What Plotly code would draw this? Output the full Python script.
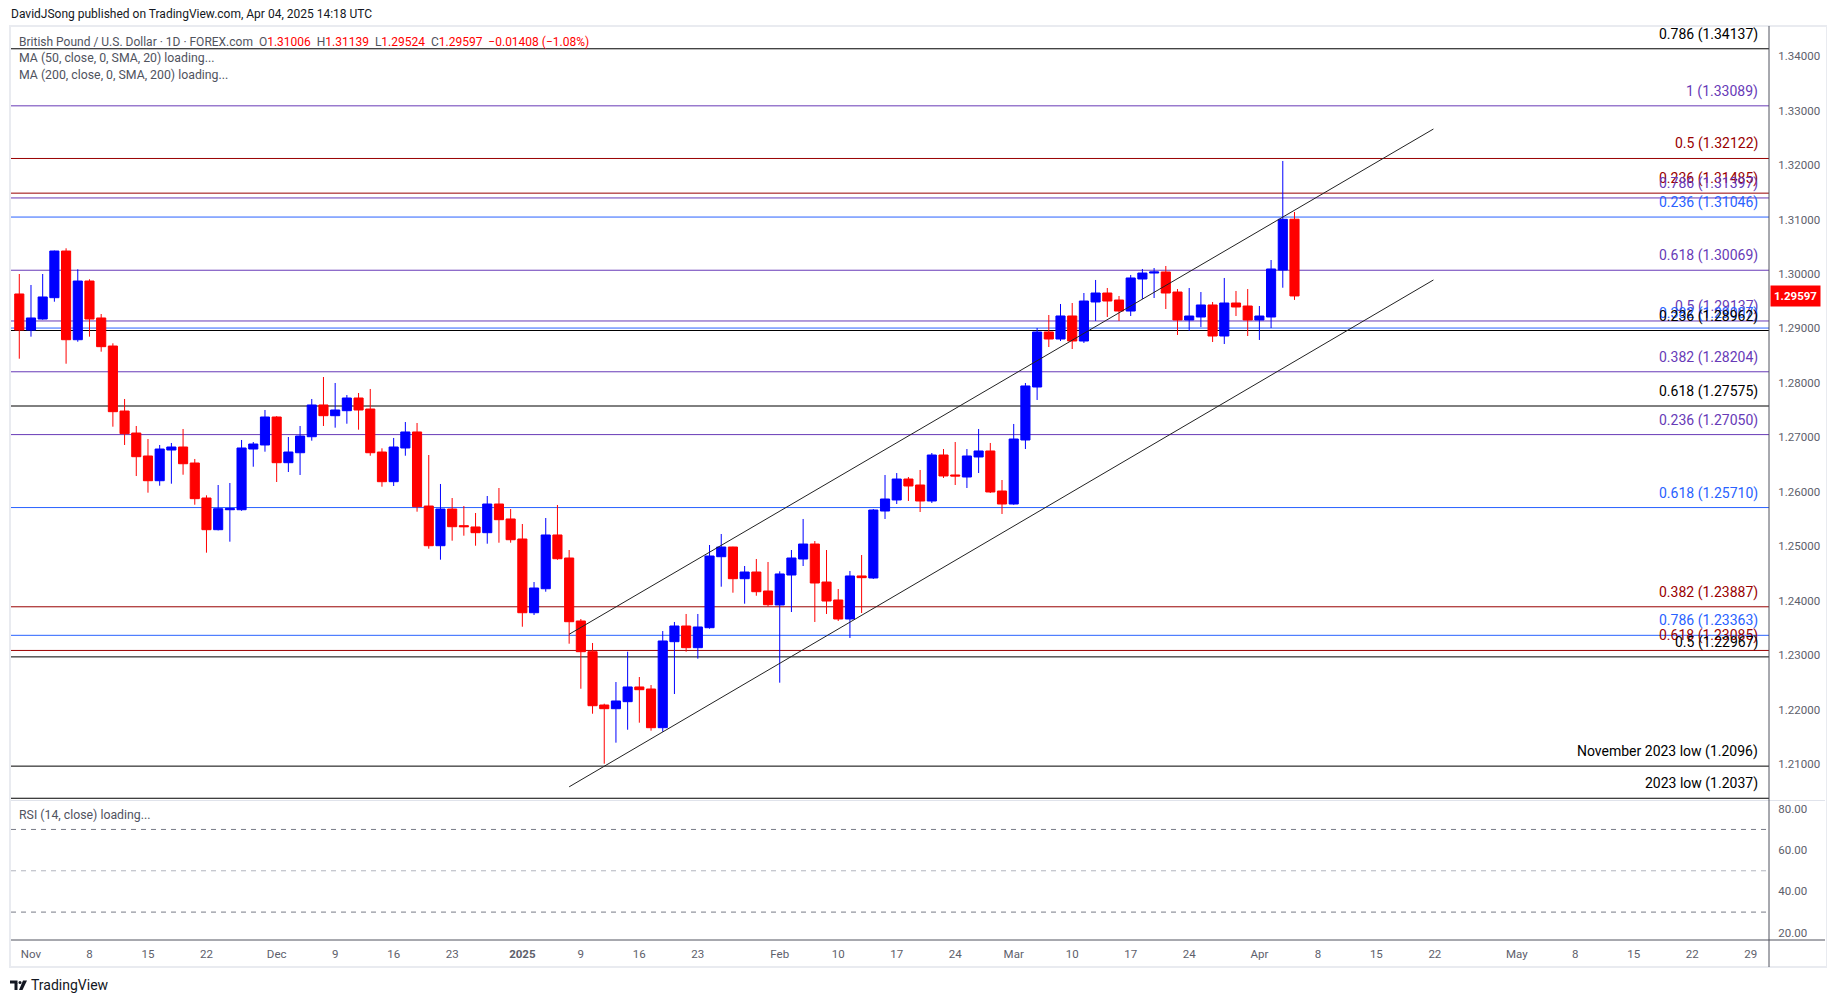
import plotly.graph_objects as go
import pandas as pd

# GBP/USD daily, FOREX.com, 31 Oct 2024 - 4 Apr 2025
holidays = ["2024-12-25", "2025-01-01"]
dates = [d for d in pd.bdate_range("2024-10-31", "2025-04-04")
         if d.strftime("%Y-%m-%d") not in holidays]

opens = [1.29633, 1.28971, 1.29173, 1.29565, 1.30422, 1.28793, 1.29871, 1.29192, 1.28677, 1.27483,
         1.27079, 1.26657, 1.26203, 1.26767, 1.26822, 1.26528, 1.25885, 1.25303, 1.25670, 1.25670,
         1.26785, 1.26859, 1.27373, 1.26534, 1.26717, 1.27011, 1.27594, 1.27397, 1.27489, 1.27722,
         1.27520, 1.26730, 1.26185, 1.26804, 1.27098, 1.25738, 1.25009, 1.25683, 1.25377, 1.25353,
         1.25248, 1.25775, 1.25500, 1.25132, 1.23778, 1.24219, 1.25206, 1.24783, 1.23626, 1.23062,
         1.22083, 1.22015, 1.22144, 1.22414, 1.22377, 1.21666, 1.23246, 1.23534, 1.23136, 1.23503,
         1.24807, 1.24985, 1.24403, 1.24526, 1.24177, 1.23920, 1.24471, 1.24765, 1.25040, 1.24342,
         1.24012, 1.23663, 1.24453, 1.24416, 1.25646, 1.25849, 1.26234, 1.26124, 1.25830, 1.26675,
         1.26308, 1.26271, 1.26639, 1.26749, 1.26014, 1.25775, 1.26951, 1.27924, 1.28935, 1.28806,
         1.29229, 1.28769, 1.29486, 1.29651, 1.29522, 1.29320, 1.29908, 1.30018, 1.30037, 1.29669,
         1.29155, 1.29210, 1.29431, 1.28861, 1.29467, 1.29412, 1.29155, 1.29210, 1.30073, 1.31006]
highs = [1.30000, 1.29798, 1.30000, 1.30430, 1.30472, 1.30086, 1.29903, 1.29265, 1.28727, 1.27704,
         1.27208, 1.26969, 1.26859, 1.26896, 1.27153, 1.26602, 1.25935, 1.26124, 1.26161, 1.26951,
         1.26914, 1.27502, 1.27390, 1.27006, 1.27208, 1.27704, 1.28108, 1.27998, 1.27777, 1.27814,
         1.27888, 1.26798, 1.26988, 1.27281, 1.27263, 1.26675, 1.26143, 1.25885, 1.25738, 1.25610,
         1.25922, 1.26069, 1.25683, 1.25408, 1.24342, 1.25518, 1.25757, 1.24930, 1.23663, 1.23222,
         1.22107, 1.22505, 1.23062, 1.22597, 1.22450, 1.23442, 1.23608, 1.23755, 1.23755, 1.25022,
         1.25224, 1.24990, 1.24636, 1.24765, 1.24710, 1.24539, 1.24930, 1.25500, 1.25095, 1.24930,
         1.24214, 1.24545, 1.24838, 1.25683, 1.26308, 1.26344, 1.26271, 1.26400, 1.26712, 1.26785,
         1.26914, 1.26785, 1.27153, 1.26896, 1.26216, 1.27245, 1.27998, 1.29008, 1.29247, 1.29449,
         1.29467, 1.29651, 1.29890, 1.29743, 1.29596, 1.29982, 1.30092, 1.30110, 1.30147, 1.29724,
         1.29743, 1.29669, 1.29486, 1.29927, 1.29688, 1.29724, 1.29412, 1.30257, 1.32076, 1.31139]
lows = [1.28444, 1.28849, 1.29160, 1.29491, 1.28352, 1.28756, 1.28849, 1.28573, 1.27195, 1.26859,
        1.26289, 1.25983, 1.26111, 1.26148, 1.26313, 1.25762, 1.24881, 1.25290, 1.25083, 1.25650,
        1.26460, 1.26736, 1.26179, 1.26363, 1.26308, 1.26938, 1.27208, 1.27177, 1.27250, 1.27140,
        1.26662, 1.26093, 1.26106, 1.26662, 1.25634, 1.24954, 1.24752, 1.25101, 1.25193, 1.25009,
        1.25046, 1.25064, 1.25064, 1.23521, 1.23736, 1.24164, 1.24750, 1.23209, 1.22382, 1.21923,
        1.21005, 1.21391, 1.21629, 1.21758, 1.21611, 1.21593, 1.22285, 1.23062, 1.22934, 1.23485,
        1.24256, 1.24146, 1.23944, 1.24090, 1.23888, 1.22493, 1.23791, 1.24636, 1.23608, 1.23755,
        1.23626, 1.23314, 1.23773, 1.24398, 1.25500, 1.25775, 1.25830, 1.25628, 1.25794, 1.26253,
        1.26124, 1.26069, 1.26344, 1.25977, 1.25592, 1.25760, 1.26785, 1.27686, 1.28659, 1.28769,
        1.28622, 1.28733, 1.29137, 1.29210, 1.29137, 1.29228, 1.29541, 1.29559, 1.29357, 1.28880,
        1.28953, 1.29026, 1.28751, 1.28714, 1.29228, 1.28861, 1.28788, 1.29008, 1.29748, 1.29524]
closes = [1.28971, 1.29192, 1.29578, 1.30422, 1.28793, 1.29871, 1.29173, 1.28665, 1.27471, 1.27067,
          1.26644, 1.26203, 1.26785, 1.26822, 1.26515, 1.25873, 1.25303, 1.25689, 1.25689, 1.26804,
          1.26877, 1.27373, 1.26534, 1.26730, 1.27024, 1.27594, 1.27397, 1.27502, 1.27722, 1.27502,
          1.26717, 1.26185, 1.26822, 1.27098, 1.25726, 1.25009, 1.25683, 1.25358, 1.25358, 1.25248,
          1.25775, 1.25487, 1.25119, 1.23778, 1.24232, 1.25206, 1.24770, 1.23613, 1.23062, 1.22070,
          1.22015, 1.22157, 1.22414, 1.22364, 1.21666, 1.23259, 1.23534, 1.23136, 1.23516, 1.24820,
          1.24985, 1.24403, 1.24526, 1.24164, 1.23925, 1.24490, 1.24783, 1.25040, 1.24324, 1.23993,
          1.23663, 1.24453, 1.24422, 1.25665, 1.25867, 1.26234, 1.26106, 1.25830, 1.26675, 1.26290,
          1.26290, 1.26657, 1.26749, 1.25996, 1.25775, 1.26969, 1.27943, 1.28935, 1.28806, 1.29229,
          1.28769, 1.29504, 1.29651, 1.29504, 1.29320, 1.29927, 1.30018, 1.30037, 1.29651, 1.29155,
          1.29228, 1.29431, 1.28861, 1.29467, 1.29394, 1.29155, 1.29228, 1.30092, 1.31005, 1.29597]
change_text = "\u22120.01408 (\u22121.08%)"

# rising channel drawn on the chart
channel_x = ["2025-01-08 12:00", "2025-04-22 09:00"]
channel_upper = [1.23382, 1.32663]
channel_lower = [1.20580, 1.29890]

# fibonacci levels (set: A black, B purple, C red, D blue)
fib_levels = [1.34137, 1.33089, 1.32122, 1.31485, 1.31397, 1.31046, 1.30069, 1.29137, 1.29007,
              1.28962, 1.28204, 1.27575, 1.27050, 1.25710, 1.23887, 1.23363, 1.23085, 1.22967]
fib_ratios = ["0.786", "1", "0.5", "0.236", "0.786", "0.236", "0.618", "0.5", "0.382",
              "0.236", "0.382", "0.618", "0.236", "0.618", "0.382", "0.786", "0.618", "0.5"]
fib_sets = ["A", "B", "C", "C", "B", "D", "B", "B", "D", "A", "B", "A", "B", "D", "C", "D", "C", "A"]
low_names = ["November 2023 low", "2023 low"]
low_levels = [1.2096, 1.2037]

price_ticks = [1.21, 1.22, 1.23, 1.24, 1.25, 1.26, 1.27, 1.28, 1.29, 1.30, 1.31, 1.32, 1.33, 1.34]
rsi_ticks = [20, 40, 60, 80]
rsi_bands = [70, 50, 30]

tick_dates = ["2024-11-01", "2024-11-08", "2024-11-15", "2024-11-22", "2024-12-02", "2024-12-09",
              "2024-12-16", "2024-12-23", "2025-01-02", "2025-01-09", "2025-01-16", "2025-01-23",
              "2025-02-03", "2025-02-10", "2025-02-17", "2025-02-24", "2025-03-03", "2025-03-10",
              "2025-03-17", "2025-03-24", "2025-04-01", "2025-04-08", "2025-04-15", "2025-04-22",
              "2025-05-01", "2025-05-08", "2025-05-15", "2025-05-22", "2025-05-29"]
tick_labels = ["Nov", "8", "15", "22", "Dec", "9", "16", "23", "<b>2025</b>", "9", "16", "23",
               "Feb", "10", "17", "24", "Mar", "10", "17", "24", "Apr", "8", "15", "22",
               "May", "8", "15", "22", "29"]

# ---- style ----
UP = "#0000ff"
DOWN = "#ff0000"
SET_COLORS = {"A": "#000000", "B": "#673ab7", "C": "#990000", "D": "#2962ff"}
TEXT = "#131722"
GREY = "#50535e"
FONT = "Roboto"
# the page body keeps an 8px margin, so the figure is 16px smaller than the window
OFF = 8
W, H = 1835 - 2 * OFF, 1003 - 2 * OFF
ML, MR, MT, MB = 11 - OFF, 1835 - OFF - 1769, 27 - OFF, 1003 - OFF - 940
PW, PH = W - ML - MR, H - MT - MB


def px(x, y):
    # pixel position in the window -> paper coordinates
    return (x - OFF - ML) / PW, (H - MB - (y - OFF)) / PH


bar_x = [d + pd.Timedelta(hours=12) for d in dates]
tick_x = [pd.Timestamp(t) + pd.Timedelta(hours=12) for t in tick_dates]
breaks = [dict(bounds=["sat", "mon"]), dict(values=holidays)]

fig = go.Figure()
fig.add_trace(go.Candlestick(
    x=bar_x, open=opens, high=highs, low=lows, close=closes,
    increasing=dict(line=dict(color=UP, width=1), fillcolor=UP),
    decreasing=dict(line=dict(color=DOWN, width=1), fillcolor=DOWN),
    whiskerwidth=0, showlegend=False, hoverinfo="skip"))
for ys in (channel_upper, channel_lower):
    fig.add_trace(go.Scatter(x=channel_x, y=ys, mode="lines",
                             line=dict(color="#222222", width=1),
                             showlegend=False, hoverinfo="skip"))
fig.add_trace(go.Scatter(x=[], y=[], xaxis="x2", yaxis="y2", showlegend=False))

shapes = []
annotations = []
label_list = [(lvl, f"{r} ({lvl:.5f})", SET_COLORS[s]) for lvl, r, s in zip(fib_levels, fib_ratios, fib_sets)]
label_list += [(lvl, f"{n} ({lvl:.4f})", SET_COLORS["A"]) for lvl, n in zip(low_levels, low_names)]
for lvl, txt, col in label_list:
    shapes.append(dict(type="line", xref="paper", x0=0, x1=1, yref="y", y0=lvl, y1=lvl,
                       line=dict(color=col, width=1), layer="below"))
    annotations.append(dict(xref="paper", x=1, xanchor="right", xshift=-9, yref="y", y=lvl,
                            yanchor="middle", yshift=14.5, text=txt, showarrow=False,
                            font=dict(family=FONT, size=14, color=col)))

for lvl, col in zip(rsi_bands, ["#787b86", "#b2b5be", "#787b86"]):
    shapes.append(dict(type="line", xref="paper", x0=0, x1=1, yref="y2", y0=lvl, y1=lvl,
                       line=dict(color=col, width=1, dash="5px,5px"), layer="below"))

# frame, pane separator and axis lines
fx0, fy0 = px(10, 967)
fx1, fy1 = px(1827, 26)
shapes.append(dict(type="rect", xref="paper", yref="paper", x0=fx0, y0=fy0, x1=fx1, y1=fy1,
                   line=dict(color="#e9ebf0", width=2), layer="below"))
sx, sy = px(1825, 800.5)
shapes.append(dict(type="line", xref="paper", yref="paper", x0=0, x1=sx, y0=sy, y1=sy,
                   line=dict(color="#e0e3eb", width=1)))
shapes.append(dict(type="line", xref="paper", yref="paper", x0=0, x1=sx, y0=0, y1=0,
                   line=dict(color=GREY, width=1)))
shapes.append(dict(type="line", xref="paper", yref="paper", x0=1, x1=1, y0=fy0, y1=fy1,
                   line=dict(color=GREY, width=1)))

# TradingView logo mark
lx0, ly0 = px(10, 980.5)
lx1, ly1 = px(17.5, 983.5)
shapes.append(dict(type="rect", xref="paper", yref="paper", x0=lx0, y0=ly1, x1=lx1, y1=ly0,
                   fillcolor=TEXT, line=dict(width=0)))
lx0, ly0 = px(14.5, 983)
lx1, ly1 = px(17.5, 990)
shapes.append(dict(type="rect", xref="paper", yref="paper", x0=lx0, y0=ly1, x1=lx1, y1=ly0,
                   fillcolor=TEXT, line=dict(width=0)))
cx0, cy0 = px(18.5, 981)
cx1, cy1 = px(21.5, 984)
shapes.append(dict(type="circle", xref="paper", yref="paper", x0=cx0, y0=cy1, x1=cx1, y1=cy0,
                   fillcolor=TEXT, line=dict(width=0)))
pts = [px(23, 980.5), px(27, 980.5), px(22.5, 990), px(19, 990)]
path = "M " + " L ".join(f"{a},{b}" for a, b in pts) + " Z"
shapes.append(dict(type="path", xref="paper", yref="paper", path=path,
                   fillcolor=TEXT, line=dict(width=0)))

red = "#ff0000"
nb = "\u00a0"
legend_txt = ("British Pound / U.S. Dollar \u00b7 1D \u00b7 FOREX.com" + nb * 2 +
              f"O<span style='color:{red}'>{opens[-1]:.5f}</span>" + nb * 2 +
              f"H<span style='color:{red}'>{highs[-1]:.5f}</span>" + nb * 2 +
              f"L<span style='color:{red}'>{lows[-1]:.5f}</span>" + nb * 2 +
              f"C<span style='color:{red}'>{closes[-1]:.5f}</span>" + nb * 2 +
              f"<span style='color:{red}'>{change_text}</span>")
texts = [
    (9, 14.5, "DavidJSong published on TradingView.com, Apr 04, 2025 14:18 UTC", 12, TEXT),
    (17, 41.5, legend_txt, 12, GREY),
    (17, 58, "MA (50, close, 0, SMA, 20) loading...", 12.3, GREY),
    (17, 75, "MA (200, close, 0, SMA, 200) loading...", 12.3, GREY),
    (17, 815, "RSI (14, close) loading...", 12.3, GREY),
    (29, 985, "TradingView", 14, TEXT),
]
for x, y, t, s, c in texts:
    ax_, ay_ = px(x, y)
    annotations.append(dict(xref="paper", yref="paper", x=ax_, y=ay_, xanchor="left",
                            yanchor="middle", text=t, showarrow=False,
                            font=dict(family=FONT, size=s, color=c)))

# last price tag
annotations.append(dict(xref="paper", x=1, xanchor="left", xshift=1, yref="y", y=closes[-1],
                        yanchor="middle", text=f"<b>{closes[-1]:.5f}</b>", showarrow=False,
                        bgcolor="#ff0000", borderpad=3,
                        font=dict(family=FONT, size=11.5, color="white")))

main_bottom = px(0, 800)[1]
rsi_top = px(0, 801)[1]
axis_font = dict(family=FONT, size=11.5, color="#5d606b")

fig.update_layout(
    width=W, height=H,
    margin=dict(l=ML, r=MR, t=MT, b=MB),
    paper_bgcolor="white", plot_bgcolor="white",
    showlegend=False, boxgap=0.22, boxgroupgap=0,
    font=dict(family=FONT, color=TEXT),
    xaxis=dict(domain=[0, 1], anchor="y", type="date",
               range=["2024-10-30 19:00", "2025-06-02 01:26"], rangebreaks=breaks,
               showticklabels=False, showgrid=False, zeroline=False, showline=False,
               rangeslider=dict(visible=False)),
    xaxis2=dict(domain=[0, 1], anchor="y2", type="date", matches="x", rangebreaks=breaks,
                tickvals=tick_x, ticktext=tick_labels, showgrid=False, zeroline=False,
                showline=False, ticks="outside", ticklen=3, tickcolor="rgba(0,0,0,0)",
                tickfont=axis_font),
    yaxis=dict(domain=[main_bottom, 1], anchor="x", side="right", range=[1.20338, 1.34537],
               tickvals=price_ticks, ticktext=[f"{v:.5f}" for v in price_ticks],
               showgrid=False, zeroline=False, showline=False, ticks="outside", ticklen=6,
               tickcolor="rgba(0,0,0,0)", tickfont=axis_font),
    yaxis2=dict(domain=[0, rsi_top], anchor="x2", side="right", range=[16.5, 83.76],
                tickvals=rsi_ticks, ticktext=[f"{v:.2f}" for v in rsi_ticks],
                showgrid=False, zeroline=False, showline=False, ticks="outside", ticklen=6,
                tickcolor="rgba(0,0,0,0)", tickfont=axis_font),
    shapes=shapes,
    annotations=annotations,
)

fig.write_html("out.html")
